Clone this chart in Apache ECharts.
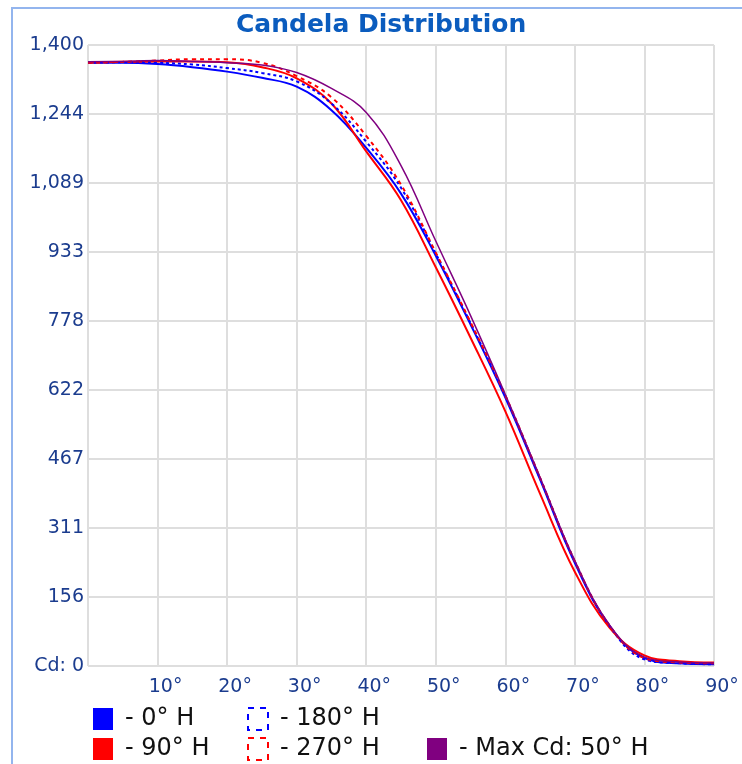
<!DOCTYPE html>
<html>
<head>
    <meta charset="utf-8">
    <title>Candela Distribution</title>
    <script src="https://cdn.jsdelivr.net/npm/echarts@6/dist/echarts.min.js"></script>
    <style>
        body { margin: 0; background: #fff; }
    </style>
</head>
<body>
    <div id="main" style="width: 742px;height:764px;"></div>
    <script type="text/javascript">
        var myChart = echarts.init(document.getElementById('main'));

        // vertical angle, degrees
        var angles = [0, 5, 10, 15, 20, 25, 30, 35, 40, 45, 50, 55, 60, 65, 70, 75, 80, 85, 90];

        // candela values per horizontal plane
        var h0 = [1360, 1360, 1357, 1350, 1340, 1326, 1306, 1253, 1168, 1065, 925, 770, 605, 420, 232, 90, 18, 6, 4];
        var h90 = [1360, 1362, 1363, 1363, 1361, 1350, 1325, 1268, 1160, 1050, 899, 740, 574, 388, 212, 86, 24, 11, 8];
        var h180 = [1360, 1361, 1360, 1356, 1348, 1337, 1318, 1268, 1182, 1078, 930, 773, 608, 423, 235, 90, 15, 6, 4];
        var h270 = [1360, 1362, 1365, 1368, 1368, 1360, 1330, 1282, 1195, 1085, 932, 775, 610, 424, 236, 91, 18, 8, 6];
        var max50 = [1362, 1363, 1365, 1363, 1360, 1355, 1338, 1302, 1248, 1128, 958, 790, 612, 425, 237, 92, 20, 9, 7];

        var yTickLabels = ['Cd: 0', '156', '311', '467', '622', '778', '933', '1,089', '1,244', '1,400'];
        var xTickLabels = ['', '10°', '20°', '30°', '40°', '50°', '60°', '70°', '80°', '90°'];

        var yMax = 1400;
        var yStep = yMax / 9;

        function pairs(values) {
            return angles.map(function (a, i) { return [a, values[i]]; });
        }

        var lines = [
            { name: '0° H', data: h0, color: '#0000ff', type: 'solid', width: 2 },
            { name: '90° H', data: h90, color: '#ff0000', type: 'solid', width: 2 },
            { name: '180° H', data: h180, color: '#0000ff', type: [3, 3], width: 2 },
            { name: '270° H', data: h270, color: '#ff0000', type: [4, 4], width: 2 },
            { name: 'Max Cd: 50° H', data: max50, color: '#800080', type: 'solid', width: 1.5 }
        ];

        // legend boxes: two rows
        var legendSpots = {
            '0° H': [88, 702],
            '180° H': [242, 702],
            '90° H': [88, 732],
            '270° H': [242, 732],
            'Max Cd: 50° H': [422, 732]
        };

        var legends = lines.map(function (l) {
            var dashed = l.type !== 'solid';
            return {
                left: legendSpots[l.name][0],
                top: legendSpots[l.name][1],
                itemWidth: 20,
                itemHeight: 22,
                selectedMode: false,
                formatter: '- {name}',
                textStyle: {
                    color: '#111111',
                    fontSize: 24,
                    fontFamily: 'DejaVu Sans',
                    padding: [0, 0, 0, 7]
                },
                data: [{
                    name: l.name,
                    icon: 'rect',
                    itemStyle: dashed ? {
                        color: 'rgba(0,0,0,0)',
                        borderColor: l.color,
                        borderWidth: 2,
                        borderType: [6, 6]
                    } : { color: l.color, borderWidth: 0 }
                }]
            };
        });

        var option = {
            animation: false,
            backgroundColor: '#ffffff',
            title: {
                text: 'Candela Distribution',
                left: 231,
                top: 8,
                textStyle: {
                    color: '#0b5cbe',
                    fontSize: 25,
                    fontWeight: 'bold',
                    fontFamily: 'DejaVu Sans'
                }
            },
            graphic: [{
                type: 'rect',
                shape: { x: 12, y: 8, width: 780, height: 800 },
                style: { fill: 'none', stroke: '#93b5ee', lineWidth: 2 },
                silent: true
            }],
            legend: legends,
            grid: { left: 88, right: 28, top: 45, bottom: 98 },
            xAxis: {
                type: 'value',
                min: 0,
                max: 90,
                interval: 10,
                axisLine: { show: false },
                axisTick: { show: false },
                splitLine: { lineStyle: { color: '#dedede', width: 2 } },
                axisLabel: {
                    color: '#1b3c8e',
                    fontSize: 19,
                    fontFamily: 'DejaVu Sans',
                    margin: 12,
                    padding: [0, 0, 0, 16],
                    formatter: function (v) { return xTickLabels[Math.round(v / 10)]; }
                }
            },
            yAxis: {
                type: 'value',
                min: 0,
                max: yMax,
                interval: yStep,
                axisLine: { show: false },
                axisTick: { show: false },
                splitLine: { lineStyle: { color: '#dedede', width: 2 } },
                axisLabel: {
                    color: '#1b3c8e',
                    fontSize: 19,
                    fontFamily: 'DejaVu Sans',
                    margin: 4,
                    formatter: function (v) { return yTickLabels[Math.round(v / yStep)]; }
                }
            },
            series: lines.map(function (l) {
                return {
                    name: l.name,
                    type: 'line',
                    smooth: 0.4,
                    showSymbol: false,
                    symbol: 'none',
                    data: pairs(l.data),
                    itemStyle: { color: l.color },
                    lineStyle: { color: l.color, width: l.width, type: l.type }
                };
            })
        };

        myChart.setOption(option);
    </script>
</body>
</html>
